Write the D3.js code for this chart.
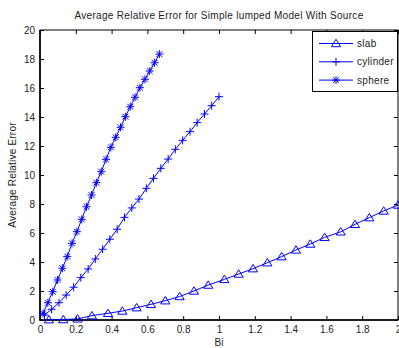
<!DOCTYPE html>
<html>
<head>
<meta charset="utf-8">
<script src="https://cdn.jsdelivr.net/npm/d3@7"></script>
<style>
  html, body { margin: 0; padding: 0; background: #fff; }
  svg { display: block; font-family: "Liberation Sans", Arial, Helvetica, sans-serif; }
</style>
</head>
<body>
<svg id="chart" width="399" height="348"></svg>
<script>
// Biot numbers and average relative error (%) for each geometry
const biSlab = [0.05, 0.13, 0.21, 0.29, 0.38, 0.46, 0.54, 0.62, 0.70, 0.78, 0.86, 0.94, 1.03,
                1.11, 1.19, 1.27, 1.35, 1.43, 1.51, 1.59, 1.68, 1.76, 1.84, 1.92, 2.00];
const errSlab = [0.02, 0.03, 0.08, 0.30, 0.46, 0.62, 0.85, 1.08, 1.33, 1.62, 2.00, 2.41, 2.80,
                 3.17, 3.54, 3.95, 4.37, 4.83, 5.24, 5.70, 6.08, 6.60, 7.06, 7.52, 7.93];

const biCylinder = [0.025, 0.065, 0.106, 0.146, 0.188, 0.228, 0.269, 0.309, 0.350, 0.390, 0.431, 0.472, 0.513,
                    0.553, 0.594, 0.634, 0.675, 0.716, 0.756, 0.797, 0.838, 0.878, 0.919, 0.959, 1.000];
const errCylinder = [0.34, 0.74, 1.19, 1.72, 2.26, 2.92, 3.52, 4.21, 4.88, 5.57, 6.26, 7.08, 7.73,
                     8.34, 9.08, 9.77, 10.46, 11.10, 11.77, 12.39, 12.99, 13.61, 14.21, 14.78, 15.40];

const biSphere = [0.017, 0.044, 0.071, 0.098, 0.125, 0.152, 0.179, 0.206, 0.233, 0.260, 0.288, 0.315, 0.342,
                  0.369, 0.396, 0.423, 0.450, 0.477, 0.504, 0.531, 0.558, 0.586, 0.613, 0.640, 0.667];
const errSphere = [0.46, 1.19, 1.95, 2.76, 3.57, 4.37, 5.29, 6.09, 6.94, 7.81, 8.62, 9.47, 10.23,
                   11.08, 11.91, 12.60, 13.29, 14.02, 14.71, 15.36, 16.02, 16.60, 17.17, 17.74, 18.34];

const xTicks = [0, 0.2, 0.4, 0.6, 0.8, 1, 1.2, 1.4, 1.6, 1.8, 2];
const yTicks = [0, 2, 4, 6, 8, 10, 12, 14, 16, 18, 20];
const seriesNames = ["slab", "cylinder", "sphere"];

const blue = "#0000ff";
const margin = { left: 40, right: 398, top: 30, bottom: 320 };

const svg = d3.select("#chart");
const x = d3.scaleLinear().domain([0, 2]).range([margin.left, margin.right]);
const y = d3.scaleLinear().domain([0, 20]).range([margin.bottom, margin.top]);

// marker shapes
const markerPaths = {
  slab: "M0,-4.2L4.6,3.2L-4.6,3.2Z",
  cylinder: "M-4,0L4,0M0,-4L0,4",
  sphere: "M-4,0L4,0M0,-4L0,4M-2.9,-2.9L2.9,2.9M-2.9,2.9L2.9,-2.9"
};

// axes box and ticks (inward on all four sides)
const tickLen = 4;
const axisG = svg.append("g");
const bottomAxis = d3.axisBottom(x).tickValues(xTicks).tickSizeInner(-tickLen).tickSizeOuter(0)
  .tickFormat(d3.format("~g")).tickPadding(6);
const topAxis = d3.axisTop(x).tickValues(xTicks).tickSizeInner(-tickLen).tickSizeOuter(0).tickFormat("");
const leftAxis = d3.axisLeft(y).tickValues(yTicks).tickSizeInner(-tickLen).tickSizeOuter(0)
  .tickFormat(d3.format("~g")).tickPadding(5);
const rightAxis = d3.axisRight(y).tickValues(yTicks).tickSizeInner(-tickLen).tickSizeOuter(0).tickFormat("");

axisG.append("g").attr("transform", `translate(0,${margin.bottom})`).call(bottomAxis);
axisG.append("g").attr("transform", `translate(0,${margin.top})`).call(topAxis);
axisG.append("g").attr("transform", `translate(${margin.left},0)`).call(leftAxis);
axisG.append("g").attr("transform", `translate(${margin.right},0)`).call(rightAxis);
axisG.selectAll("text").attr("font-size", 10).attr("fill", "#222")
  .attr("font-family", "'Liberation Sans', Arial, sans-serif");
axisG.selectAll("line").attr("stroke", "#000");
axisG.selectAll(".domain").remove();

svg.append("rect")
  .attr("x", margin.left).attr("y", margin.top)
  .attr("width", margin.right - margin.left).attr("height", margin.bottom - margin.top)
  .attr("fill", "none").attr("stroke", "#000").attr("stroke-width", 1);
svg.append("line").attr("x1", margin.left).attr("x2", margin.left)
  .attr("y1", margin.top).attr("y2", margin.bottom + 0.75)
  .attr("stroke", "#000").attr("stroke-width", 1.6);
svg.append("line").attr("x1", margin.left).attr("x2", margin.right)
  .attr("y1", margin.bottom).attr("y2", margin.bottom)
  .attr("stroke", "#000").attr("stroke-width", 1.6);

// data series
const series = [
  { name: "slab", bi: biSlab, err: errSlab },
  { name: "cylinder", bi: biCylinder, err: errCylinder },
  { name: "sphere", bi: biSphere, err: errSphere }
];

const line = d3.line().x(d => x(d[0])).y(d => y(d[1]));
const plotG = svg.append("g");
series.forEach(s => {
  const pts = s.bi.map((b, i) => [b, s.err[i]]);
  plotG.append("path").datum(pts).attr("d", line)
    .attr("fill", "none").attr("stroke", blue).attr("stroke-width", 1);
  plotG.selectAll(null).data(pts).enter().append("path")
    .attr("transform", d => `translate(${x(d[0])},${y(d[1])})`)
    .attr("d", markerPaths[s.name])
    .attr("fill", "none").attr("stroke", blue).attr("stroke-width", 1);
});

// title and axis labels
svg.append("text").attr("x", (margin.left + margin.right) / 2).attr("y", 19)
  .attr("text-anchor", "middle").attr("font-size", 10).attr("fill", "#222")
  .attr("letter-spacing", 0.3)
  .text("Average Relative Error for Simple lumped Model With Source");
svg.append("text").attr("x", (margin.left + margin.right) / 2).attr("y", 346)
  .attr("text-anchor", "middle").attr("font-size", 10).attr("fill", "#222")
  .text("Bi");
svg.append("text")
  .attr("transform", `translate(16,${(margin.top + margin.bottom) / 2}) rotate(-90)`)
  .attr("text-anchor", "middle").attr("font-size", 10).attr("fill", "#222")
  .attr("letter-spacing", 0.2)
  .text("Average Relative Error");

// legend
const legend = svg.append("g");
legend.append("rect").attr("x", 312.5).attr("y", 31.5).attr("width", 85).attr("height", 60)
  .attr("fill", "#fff").attr("stroke", "#000").attr("stroke-width", 1);
seriesNames.forEach((name, i) => {
  const ly = 43.5 + i * 18.3;
  legend.append("line").attr("x1", 319).attr("x2", 353).attr("y1", ly).attr("y2", ly)
    .attr("stroke", blue).attr("stroke-width", 1);
  legend.append("path").attr("transform", `translate(336,${ly})`).attr("d", markerPaths[name])
    .attr("fill", "none").attr("stroke", blue).attr("stroke-width", 1);
  legend.append("text").attr("x", 357).attr("y", ly + 3.5).attr("font-size", 10).attr("fill", "#222")
    .attr("letter-spacing", 0.3)
    .text(name);
});
</script>
</body>
</html>
